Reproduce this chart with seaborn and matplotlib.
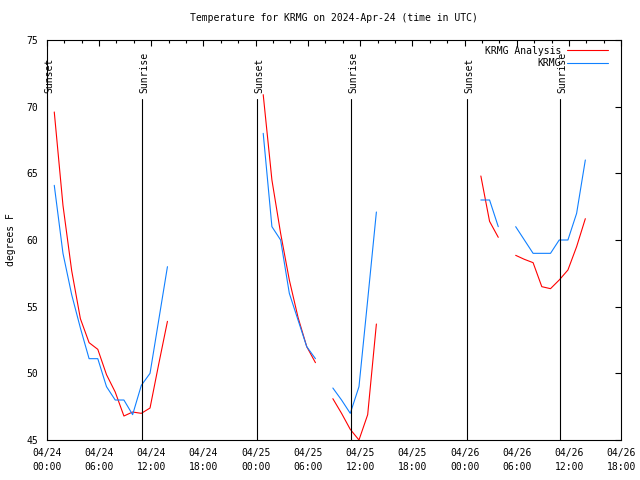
import pandas as pd
import seaborn as sns
import matplotlib.pyplot as plt
import matplotlib.dates as mdates
from matplotlib.lines import Line2D

# hourly observations, split where the record has gaps
seg_starts = ['2024-04-24 00:52', '2024-04-25 00:52', '2024-04-25 08:52',
              '2024-04-26 01:52', '2024-04-26 05:52']
analysis_temps = [
    [69.6, 62.6, 57.7, 54.1, 52.3, 51.8, 49.9, 48.6, 46.8, 47.1, 47.0, 47.4, 50.7, 53.9],
    [70.9, 64.5, 60.5, 57.0, 54.2, 52.0, 50.8],
    [48.1, 47.0, 45.8, 45.0, 46.9, 53.7],
    [64.8, 61.4, 60.2],
    [58.85, 58.55, 58.3, 56.5, 56.35, 57.0, 57.75, 59.5, 61.6],
]
krmg_temps = [
    [64.1, 59.0, 55.9, 53.4, 51.1, 51.1, 49.0, 48.0, 48.0, 46.9, 49.1, 50.0, 54.0, 58.0],
    [68.0, 61.0, 60.0, 56.0, 54.0, 52.0, 51.1],
    [48.9, 48.0, 47.0, 49.0, 55.5, 62.1],
    [63.0, 63.0, 61.0],
    [61.0, 60.0, 59.0, 59.0, 59.0, 60.0, 60.0, 62.0, 66.0],
]
sunset_times = ['2024-04-24 00:04', '2024-04-25 00:11', '2024-04-26 00:19']
sunrise_times = ['2024-04-24 10:57', '2024-04-25 10:59', '2024-04-26 10:59']

series_names = ['KRMG Analysis', 'KRMG']
series_colors = ['#ff0000', '#1080ff']


def build_frame():
    rows = []
    for name, temps in zip(series_names, [analysis_temps, krmg_temps]):
        for i, (start, vals) in enumerate(zip(seg_starts, temps)):
            times = pd.date_range(start, periods=len(vals), freq='h')
            for t, v in zip(times, vals):
                rows.append({'time': t, 'temp': v, 'series': name, 'segment': i})
    return pd.DataFrame(rows)


def main():
    df = build_frame()

    sns.set_style('white')
    plt.rcParams['font.family'] = ['DejaVu Sans Mono']
    plt.rcParams['font.size'] = 7
    plt.rcParams['text.color'] = 'black'
    plt.rcParams['axes.labelcolor'] = 'black'

    fig = plt.figure(figsize=(6.4, 4.8), dpi=100)
    ax = fig.add_axes([0.073, 0.0833, 0.8978, 0.8334])

    sns.lineplot(data=df, x='time', y='temp', hue='series', units='segment',
                 estimator=None, palette=dict(zip(series_names, series_colors)),
                 hue_order=series_names, linewidth=0.8, legend=False, ax=ax)

    top_val = 70.6
    for label, times in [('Sunset', sunset_times), ('Sunrise', sunrise_times)]:
        for t in times:
            t = pd.Timestamp(t)
            ax.plot([t, t], [45, top_val], color='black', linewidth=0.8)
            ax.annotate(label, (t, top_val), xytext=(1.5, 4), textcoords='offset points',
                        rotation=90, ha='center', va='bottom', fontsize=7)

    x_start = pd.Timestamp('2024-04-24 00:00')
    x_end = pd.Timestamp('2024-04-26 18:00')
    ax.set_xlim(x_start, x_end)
    ax.set_ylim(45, 75)
    ax.set_yticks([45, 50, 55, 60, 65, 70, 75])

    major = pd.date_range(x_start, x_end, freq='6h')
    ax.set_xticks(major)
    ax.set_xticklabels([t.strftime('%m/%d\n%H:%M') for t in major], linespacing=1.45)
    ax.xaxis.set_minor_locator(mdates.HourLocator(byhour=range(0, 24, 2)))

    ax.tick_params(which='both', direction='in', top=True, right=True, width=0.8,
                   labelsize=7, colors='black')
    ax.tick_params(which='major', length=4.5, pad=6)
    ax.tick_params(which='minor', length=2.5)
    for s in ax.spines.values():
        s.set_color('black')
        s.set_linewidth(0.8)

    ax.set_xlabel('')
    ax.set_ylabel('degrees F', fontsize=7, labelpad=8)
    ax.set_title('Temperature for KRMG on 2024-Apr-24 (time in UTC)', fontsize=7, pad=14)

    handles = [Line2D([], [], color=c, linewidth=0.8) for c in series_colors]
    ax.legend(handles, series_names, loc='upper right', bbox_to_anchor=(0.983, 0.995),
              frameon=False, markerfirst=False, handlelength=4.2, handletextpad=0.6,
              labelspacing=0.25, borderaxespad=0, fontsize=7)

    plt.savefig('out.png', dpi=100)
    plt.close()


if __name__ == '__main__':
    main()
